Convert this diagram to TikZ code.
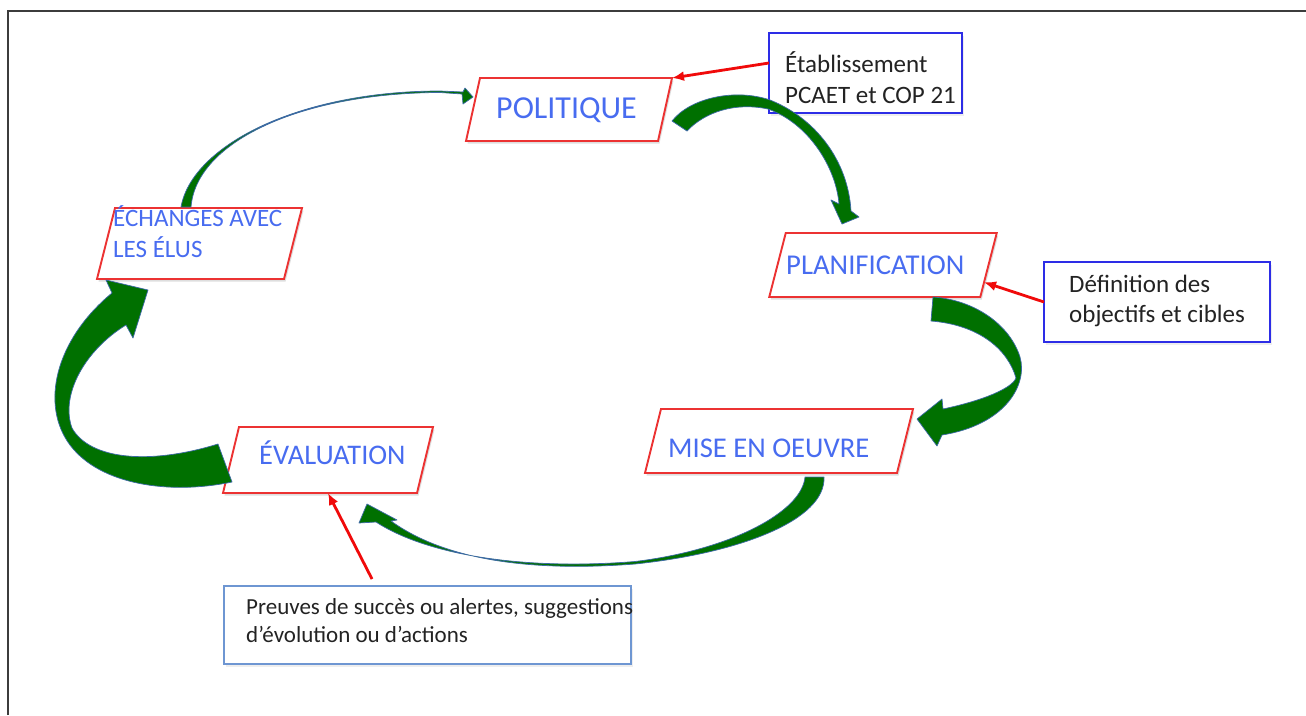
\documentclass[tikz,border=0pt]{standalone}
\usepackage{fontspec}
\setmainfont{Carlito}
\usetikzlibrary{arrows.meta,shadows,calc}

\definecolor{boxred}{RGB}{236,50,50}
\definecolor{lblue}{RGB}{72,108,240}
\definecolor{bboxc}{RGB}{45,45,230}
\definecolor{pboxc}{RGB}{110,150,210}
\definecolor{arrred}{RGB}{240,10,10}
\definecolor{txt}{RGB}{35,35,35}
\definecolor{agreen}{RGB}{0,112,0}
\definecolor{aedge}{RGB}{60,105,165}
\definecolor{framec}{RGB}{60,60,60}

% parallelogram drawn round a named (invisible) rectangle node; #2 = half slant
\newcommand\drawpara[2]{%
  \fill[black,opacity=0.13] ([xshift=#2pt+1.5pt,yshift=-2.5pt]#1.north west) -- ([xshift=#2pt+1.5pt,yshift=-2.5pt]#1.north east)
    -- ([xshift=-#2pt+1.5pt,yshift=-2.5pt]#1.south east) -- ([xshift=-#2pt+1.5pt,yshift=-2.5pt]#1.south west) -- cycle;
  \filldraw[paraline] ([xshift=#2pt]#1.north west) -- ([xshift=#2pt]#1.north east)
    -- ([xshift=-#2pt]#1.south east) -- ([xshift=-#2pt]#1.south west) -- cycle;}

\begin{document}
\begin{tikzpicture}[x=1pt,y=-1pt,
  pbase/.style={draw=none, inner sep=0pt, outer sep=0pt},
  paraline/.style={draw=boxred, line width=1.9pt, fill=white, line join=miter},
  infobox/.style={draw=bboxc, line width=2pt, fill=white, inner sep=0pt, outer sep=0pt,
    drop shadow={shadow xshift=1.5pt,shadow yshift=-2.5pt,opacity=0.13}},
  lab/.style={text=lblue, inner sep=0pt, anchor=base west},
  note/.style={text=txt, inner sep=0pt, anchor=base west},
  redarrow/.style={draw=arrred, line width=2.8pt, -{Latex[length=12pt,width=10pt]}},
  garrow/.style={fill=agreen, draw=aedge, line width=0.7pt, line join=round}
]
\useasboundingbox (0,0) rectangle (1306,715);
\fill[white] (0,0) rectangle (1306,715);
\draw[framec, line width=1.3pt] (8,715) -- (8,11) -- (1306,11);

% parallelograms (named base rectangles, mid width)
\node[pbase, minimum width=192pt, minimum height=63pt] (pol) at (569,109.5) {};
\node[pbase, minimum width=211pt, minimum height=64pt] (plan) at (883,265) {};
\node[pbase, minimum width=252pt, minimum height=64pt] (mise) at (779,441) {};
\node[pbase, minimum width=194pt, minimum height=66pt] (eval) at (328,460) {};
\node[pbase, minimum width=187pt, minimum height=71pt] (ech) at (199.5,243.5) {};
\drawpara{pol}{7}
\drawpara{plan}{8.25}
\drawpara{mise}{8}
\drawpara{eval}{8}
\drawpara{ech}{9}

% info boxes
\node[infobox, minimum width=193pt, minimum height=80pt] (etab) at (865.5,73) {};
\node[infobox, minimum width=226pt, minimum height=80pt] (defi) at (1157,302) {};
\node[infobox, draw=pboxc, line width=1.5pt, minimum width=407pt, minimum height=78pt] (preu) at (427.5,625) {};

% labels
\node[lab, font=\fontsize{32}{38}\selectfont] (polt) at (496,118) {POLITIQUE};
\node[lab, font=\fontsize{28.7}{34}\selectfont] (plant) at (786,274) {PLANIFICATION};
\node[lab, font=\fontsize{28.6}{34}\selectfont] (miset) at (668,457) {MISE EN OEUVRE};
\node[lab, font=\fontsize{28.4}{34}\selectfont] (evalt) at (259,464) {ÉVALUATION};
\node[lab, font=\fontsize{25}{30}\selectfont] (echt1) at (113,226) {ÉCHANGES AVEC};
\node[lab, font=\fontsize{25}{30}\selectfont] (echt2) at (113,257) {LES ÉLUS};

\node[note, font=\fontsize{25}{30}\selectfont] (etabt1) at (785,72) {Établissement};
\node[note, font=\fontsize{25}{30}\selectfont] (etabt2) at (785,103) {PCAET et COP 21};
\node[note, font=\fontsize{25}{30}\selectfont] (defit1) at (1069,292) {Définition des};
\node[note, font=\fontsize{25}{30}\selectfont] (defit2) at (1069,322) {objectifs et cibles};
\node[note, font=\fontsize{23}{28}\selectfont] (preut1) at (246,614) {Preuves de succès ou alertes, suggestions};
\node[note, font=\fontsize{23}{28}\selectfont] (preut2) at (246,642) {d’évolution ou d’actions};

% red arrows
\draw[redarrow] ([yshift=10pt]etab.west) -- ([xshift=7pt]pol.north east);
\draw[redarrow] (defi.west) -- ($([xshift=8.25pt]plan.north east)!0.77!([xshift=-8.25pt]plan.south east)$);
\draw[redarrow] ([xshift=-55.5pt,yshift=7pt]preu.north) -- (eval.south);

% green curved arrows
% POLITIQUE -> PLANIFICATION
\filldraw[garrow] (672,121) .. controls (690,98) and (735,88) .. (770,100)
  .. controls (815,118) and (848,160) .. (851,211) -- (859,217) -- (842,224) -- (831,200)
  -- (839,204) .. controls (836,167) and (808,123) .. (768,109)
  .. controls (735,102) and (705,112) .. (687,131) -- cycle;
% PLANIFICATION -> MISE EN OEUVRE
\filldraw[garrow] (933,297) .. controls (975,300) and (1010,325) .. (1020,357)
  .. controls (1028,385) and (1005,425) .. (942,435) -- (937,446) -- (917,419) -- (942,399)
  -- (943,409) .. controls (985,400) and (1012,388) .. (1016,378)
  .. controls (1008,350) and (980,325) .. (931,321) -- cycle;
% MISE EN OEUVRE -> EVALUATION
\filldraw[garrow] (824,477) .. controls (826,520) and (740,553) .. (635,564)
  .. controls (530,572) and (445,560) .. (391,521) -- (397,520) -- (367,504) -- (359,523)
  -- (376,522) .. controls (430,557) and (530,570) .. (635,561.5)
  .. controls (730,550) and (802,512) .. (805,477) -- cycle;
% EVALUATION -> ECHANGES
\filldraw[garrow] (232,482) .. controls (170,495) and (100,485) .. (70,445)
  .. controls (40,405) and (55,340) .. (112,293) -- (106,280) -- (148,290) -- (133,338)
  -- (126,325) .. controls (85,350) and (60,395) .. (72,428)
  .. controls (90,460) and (150,465) .. (218,444) -- cycle;
% ECHANGES -> POLITIQUE
\filldraw[garrow] (181,207) .. controls (192,145) and (300,91) .. (440,91)
  -- (463,92) -- (465,88) -- (473,97) -- (463,104) -- (462,94) -- (440,92.5)
  .. controls (298,93) and (196,143) .. (191,207) -- cycle;
\end{tikzpicture}
\end{document}
